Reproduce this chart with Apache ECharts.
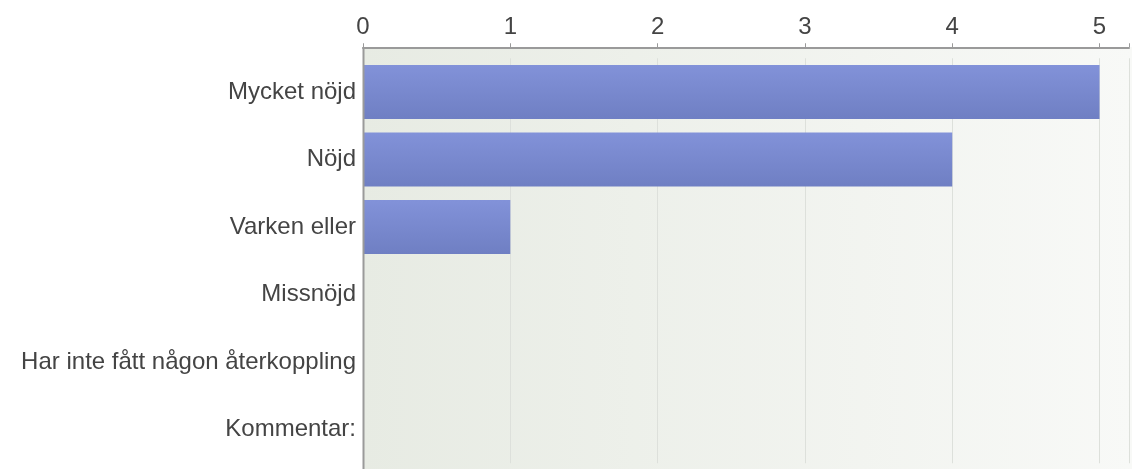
<!DOCTYPE html>
<html>
<head>
<meta charset="utf-8">
<script src="https://cdn.jsdelivr.net/npm/echarts@6/dist/echarts.min.js"></script>
<style>html,body{margin:0;padding:0;background:#fff;}#c{width:1132px;height:469px;}</style>
</head>
<body>
<div id="c"></div>
<script>
const categories = ['Mycket nöjd', 'Nöjd', 'Varken eller', 'Missnöjd', 'Har inte fått någon återkoppling', 'Kommentar:'];
const values = [5, 4, 1, 0, 0, 0];
const tickLabels = ['0', '1', '2', '3', '4', '5'];

const chart = echarts.init(document.getElementById('c'), null, {renderer: 'canvas'});
const FONT = 'Liberation Sans, Arial, sans-serif';
chart.setOption({
  animation: false,
  graphic: [
    {type: 'rect', z: -10, silent: true, shape: {x: 363, y: 47, width: 769, height: 422},
     style: {fill: new echarts.graphic.LinearGradient(0, 0, 1, 0, [{offset: 0, color: '#e7ebe3'}, {offset: 1, color: '#f8f9f7'}])}},
    {type: 'line', z: 100, silent: true, shape: {x1: 363.5, y1: 47, x2: 363.5, y2: 469}, style: {stroke: '#9a9a9a', lineWidth: 2}}
  ],
  grid: {left: 363, right: 1, top: 58.25, bottom: 5.75, containLabel: false},
  xAxis: {
    type: 'value', position: 'top', min: 0, max: 5.2, interval: 1, offset: 11,
    axisLine: {show: true, lineStyle: {color: '#9a9a9a', width: 2}},
    axisTick: {show: true, length: 4, lineStyle: {color: '#9a9a9a', width: 1}},
    axisLabel: {color: '#444', fontSize: 24, fontFamily: FONT, margin: 8,
      formatter: function (v) { const i = tickLabels.indexOf(String(v)); return i >= 0 ? tickLabels[i] : ''; }},
    splitLine: {show: true, lineStyle: {color: '#dde0db', width: 1}}
  },
  yAxis: {
    type: 'category', inverse: true, data: categories,
    axisLine: {show: false}, axisTick: {show: false},
    axisLabel: {color: '#444', fontSize: 24, fontFamily: FONT, margin: 7}
  },
  series: [{
    type: 'bar', data: values, barCategoryGap: '20%',
    itemStyle: {
      color: new echarts.graphic.LinearGradient(0, 0, 0, 1, [{offset: 0, color: '#8292d9'}, {offset: 1, color: '#6f7fc3'}]),
      borderWidth: 0
    }
  }]
});
</script>
</body>
</html>
